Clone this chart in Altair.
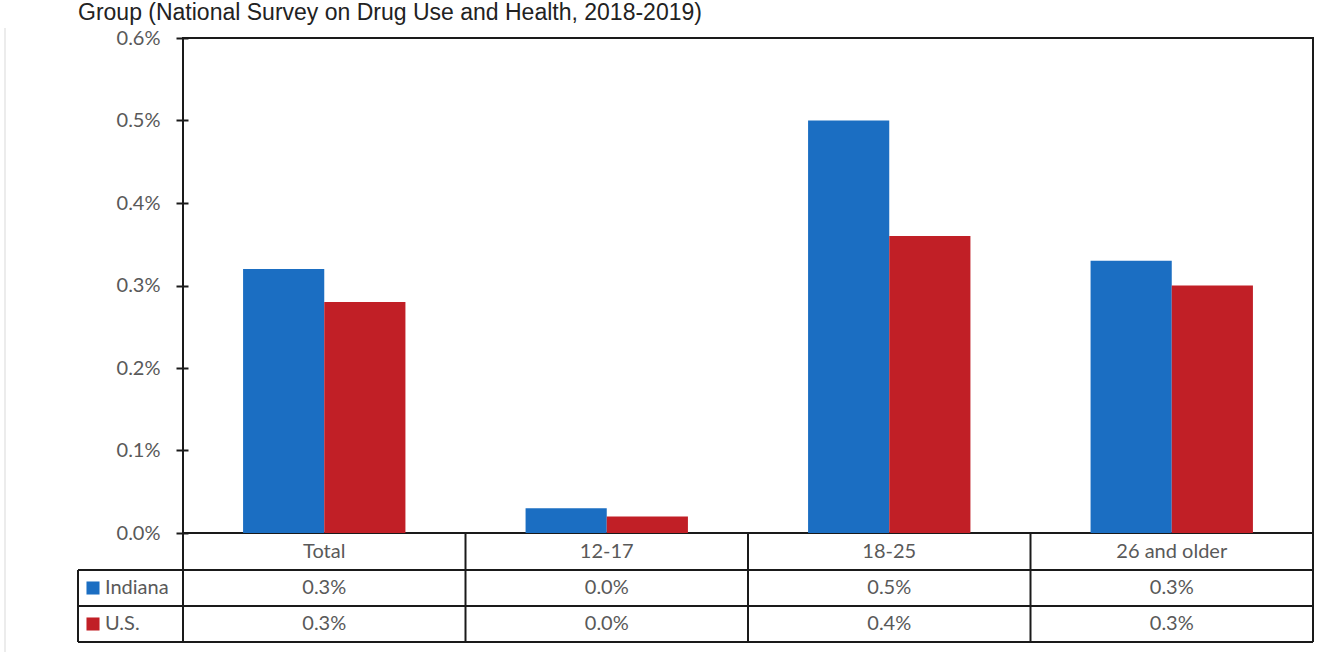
import altair as alt
import pandas as pd

# Past-year prevalence by age group, Indiana vs. U.S. (percent)
categories = ["Total", "12-17", "18-25", "26 and older"]
series = ["Indiana", "U.S."]
indiana = [0.32, 0.03, 0.50, 0.33]
us = [0.28, 0.02, 0.36, 0.30]
y_ticks = [0.0, 0.1, 0.2, 0.3, 0.4, 0.5, 0.6]
colors = ["#1b6ec2", "#c11f26"]
title_text = "Group (National Survey on Drug Use and Health, 2018-2019)"

rows = []
for cat, a, b in zip(categories, indiana, us):
    rows.append({"category": cat, "series": "Indiana", "value": a})
    rows.append({"category": cat, "series": "U.S.", "value": b})
df = pd.DataFrame(rows)
cat_df = pd.DataFrame({"category": categories})
leg_df = pd.DataFrame({"series": series})

W, H = 1130, 495
LINE = "#1a1a1a"
TXT = "#595959"
FONT = "Lato"
ROW_EXPR = "datum.series == 'Indiana' ? 550 : 586"

x_enc = alt.X("category:N", sort=categories,
              scale=alt.Scale(paddingInner=0, paddingOuter=0), axis=None)
color_enc = alt.Color("series:N", sort=series,
                      scale=alt.Scale(domain=series, range=colors), legend=None)

bars = alt.Chart(df).mark_bar(stroke=None).encode(
    x=x_enc,
    xOffset=alt.XOffset("series:N", sort=series,
                        scale=alt.Scale(paddingInner=0, paddingOuter=0.74)),
    y=alt.Y("value:Q", scale=alt.Scale(domain=[0, 0.6], nice=False),
            axis=alt.Axis(values=y_ticks, title=None, grid=False, domain=False,
                          labelExpr="format(datum.value, '.1f') + '%'",
                          labelFont=FONT, labelFontSize=20, labelColor=TXT,
                          tickSize=12, tickColor=LINE, tickWidth=2, offset=-5,
                          labelPadding=16)),
    color=color_enc,
)

# table grid: vertical separators on category band edges
vlines_left = alt.Chart(cat_df).mark_rule(color=LINE, strokeWidth=2).encode(
    x=alt.X("category:N", sort=categories, bandPosition=0,
            scale=alt.Scale(paddingInner=0, paddingOuter=0), axis=None),
    y=alt.value(H), y2=alt.value(604),
)
vline_right = alt.Chart(cat_df.tail(1)).mark_rule(color=LINE, strokeWidth=2).encode(
    x=alt.X("category:N", sort=categories, bandPosition=1,
            scale=alt.Scale(paddingInner=0, paddingOuter=0), axis=None),
    y=alt.value(H), y2=alt.value(604),
)
vline_legend = alt.Chart(cat_df.head(1)).mark_rule(color=LINE, strokeWidth=2).encode(
    x=alt.value(-105), y=alt.value(532), y2=alt.value(604),
)
hlines = alt.Chart(pd.DataFrame({"yy": [532, 568, 604]})).mark_rule(
    color=LINE, strokeWidth=2).encode(
    x=alt.value(-105), x2=alt.value(W), y=alt.Y("yy:Q", scale=None),
)

# table text
cat_text = alt.Chart(cat_df).mark_text(
    font=FONT, fontSize=20, color=TXT, baseline="middle").encode(
    x=x_enc, y=alt.value(514), text="category:N",
)
val_text = alt.Chart(df).transform_calculate(
    label="format(datum.value, '.1f') + '%'",
    ypix=ROW_EXPR,
).mark_text(font=FONT, fontSize=20, color=TXT, baseline="middle").encode(
    x=x_enc, y=alt.Y("ypix:Q", scale=None), text="label:N",
)

# row legend keys
leg_sq = alt.Chart(leg_df).transform_calculate(ypix=ROW_EXPR).mark_square(
    size=170, opacity=1, filled=True).encode(
    x=alt.value(-90), y=alt.Y("ypix:Q", scale=None), color=color_enc,
)
leg_txt = alt.Chart(leg_df).transform_calculate(ypix=ROW_EXPR).mark_text(
    font=FONT, fontSize=20, color=TXT, align="left", baseline="middle").encode(
    x=alt.value(-78), y=alt.Y("ypix:Q", scale=None), text="series:N",
)

# caption line above the plot
title = alt.Chart(cat_df.head(1)).mark_text(
    text=title_text, font="Liberation Sans", fontSize=23, color="#222222",
    align="left", baseline="alphabetic").encode(
    x=alt.value(-105), y=alt.value(-18),
)

# faint outer frame edge
frame_left = alt.Chart(cat_df.head(1)).mark_rule(color="#ececec", strokeWidth=2).encode(
    x=alt.value(-178), y=alt.value(-10), y2=alt.value(620),
)

chart = alt.layer(
    frame_left, bars, vlines_left, vline_right, vline_legend, hlines,
    cat_text, val_text, leg_sq, leg_txt, title,
).resolve_scale(x="shared").properties(
    width=W, height=H,
    autosize=alt.AutoSizeParams(type="none"),
    padding={"left": 183, "top": 38, "right": 23, "bottom": 119},
    background="white",
).configure_view(stroke=LINE, strokeWidth=2)

chart.save("out.html", embed_options={"renderer": "svg", "actions": False})
